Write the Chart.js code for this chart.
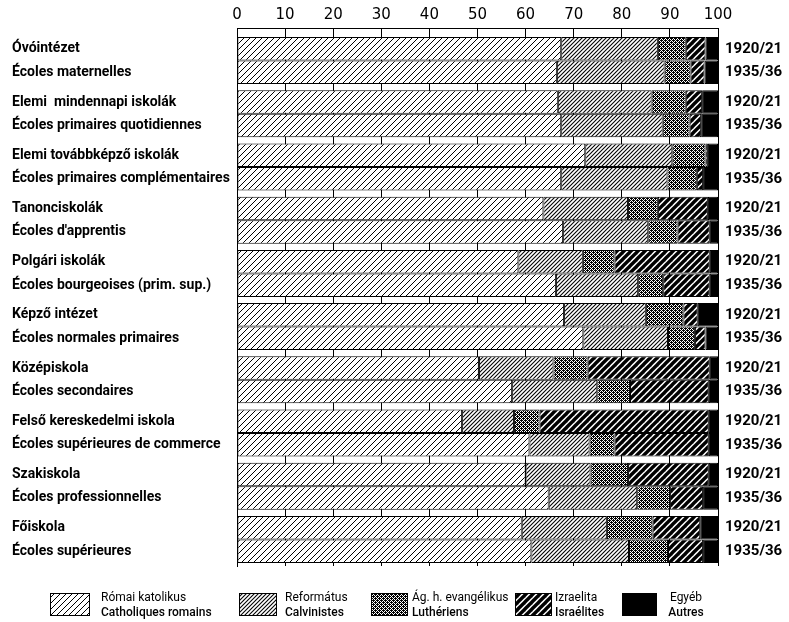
<!DOCTYPE html>
<html>
<head>
<meta charset="utf-8">
<script src="https://cdn.jsdelivr.net/npm/chart.js@4.4.1/dist/chart.umd.min.js"></script>
<style>
  html, body { margin: 0; padding: 0; background: #fff; }
  #wrap { width: 789px; height: 622px; position: relative; }
</style>
</head>
<body>
<div id="wrap"><canvas id="schoolChart"></canvas></div>
<script>
// School types (Hungarian / French)
const schoolsHu = [
    'Óvóintézet',
    'Elemi  mindennapi iskolák',
    'Elemi továbbképző iskolák',
    'Tanonciskolák',
    'Polgári iskolák',
    'Képző intézet',
    'Középiskola',
    'Felső kereskedelmi iskola',
    'Szakiskola',
    'Főiskola'
];
const schoolsFr = [
    'Écoles maternelles',
    'Écoles primaires quotidiennes',
    'Écoles primaires complémentaires',
    "Écoles d'apprentis",
    'Écoles bourgeoises (prim. sup.)',
    'Écoles normales primaires',
    'Écoles secondaires',
    'Écoles supérieures de commerce',
    'Écoles professionnelles',
    'Écoles supérieures'
];
const years = ['1920/21', '1935/36'];
const religionsHu = ['Római katolikus', 'Református', 'Ág. h. evangélikus', 'Izraelita', 'Egyéb'];
const religionsFr = ['Catholiques romains', 'Calvinistes', 'Luthériens', 'Israélites', 'Autres'];
const xTicks = [0, 10, 20, 30, 40, 50, 60, 70, 80, 90, 100];

// Share of pupils in %, one value per school type
const catholic1920 = [67.4, 66.7, 72.4, 63.7, 58.5, 68.0, 50.3, 46.8, 60.0, 59.2];
const catholic1935 = [66.5, 67.4, 67.4, 67.8, 66.3, 72.0, 57.2, 60.8, 64.8, 61.2];
const calvinist1920 = [20.1, 19.5, 18.1, 17.6, 13.4, 17.0, 15.5, 10.8, 13.5, 17.7];
const calvinist1935 = [22.4, 21.1, 22.1, 17.7, 17.1, 17.6, 17.7, 12.5, 18.4, 20.3];
const lutheran1920 = [5.8, 7.1, 6.9, 6.2, 6.6, 7.8, 7.1, 5.3, 7.8, 9.5];
const lutheran1935 = [5.4, 5.6, 6.1, 6.1, 5.2, 5.6, 6.8, 5.2, 6.8, 8.1];
const jewish1920 = [4.1, 3.4, 0.5, 10.4, 19.8, 3.0, 25.4, 35.2, 16.8, 9.9];
const jewish1935 = [2.9, 2.4, 1.3, 6.7, 9.7, 2.2, 16.4, 19.6, 6.9, 7.3];
const other1920 = [2.6, 3.3, 2.1, 2.1, 1.7, 4.2, 1.7, 1.9, 1.9, 3.7];
const other1935 = [2.8, 3.5, 3.1, 1.7, 1.7, 2.6, 1.9, 1.9, 3.1, 3.1];

const shares = [
    [catholic1920, catholic1935],
    [calvinist1920, calvinist1935],
    [lutheran1920, lutheran1935],
    [jewish1920, jewish1935],
    [other1920, other1935]
];

const LABEL_FONT = 'Roboto, "Liberation Sans", sans-serif';
const AXIS_FONT = '"DejaVu Sans", sans-serif';

// 45 degree hatch tile, lines going up to the right
function makeHatch(w, lineWidth) {
    const c = document.createElement('canvas');
    c.width = w;
    c.height = w;
    const g = c.getContext('2d');
    g.fillStyle = '#fff';
    g.fillRect(0, 0, w, w);
    g.strokeStyle = '#000';
    g.lineWidth = lineWidth;
    // lines x + y = 0, w, 2w so the tile joins without gaps
    [-1, 0, 1].forEach(k => {
        g.beginPath();
        g.moveTo(-w + k * w, 2 * w);
        g.lineTo(2 * w + k * w, -w);
        g.stroke();
    });
    return g.createPattern(c, 'repeat');
}

// dark dotted screen for the Lutheran share
function makeStipple() {
    const c = document.createElement('canvas');
    c.width = 4;
    c.height = 4;
    const g = c.getContext('2d');
    g.fillStyle = '#fff';
    g.fillRect(0, 0, 4, 4);
    g.fillStyle = '#000';
    for (let x = 0; x < 4; x++) {
        for (let y = 0; y < 4; y++) {
            if ((x + y) % 2 === 0 || (x === 1 && y === 0) || (x === 3 && y === 2)) {
                g.fillRect(x, y, 1, 1);
            }
        }
    }
    return g.createPattern(c, 'repeat');
}

const fills = [
    makeHatch(6, 1),      // Római katolikus
    makeHatch(4, 1.1),    // Református
    makeStipple(),        // Ág. h. evangélikus
    makeHatch(7, 3.4),    // Izraelita
    '#000'                // Egyéb
];

const datasets = [];
religionsHu.forEach((rel, i) => {
    years.forEach((yr, j) => {
        datasets.push({
            label: rel + ' ' + yr,
            data: shares[i][j],
            backgroundColor: fills[i],
            borderColor: '#000',
            borderWidth: 1,
            borderSkipped: false,
            stack: yr,
            barPercentage: 1.0,
            categoryPercentage: 0.883
        });
    });
});

// ruler line above the first bars and the left frame
const framePlugin = {
    id: 'frame',
    afterDatasetsDraw(chart) {
        const { ctx, chartArea: a } = chart;
        ctx.save();
        ctx.strokeStyle = '#000';
        ctx.lineWidth = 1;
        ctx.beginPath();
        ctx.moveTo(a.left, a.top - 5.5);
        ctx.lineTo(a.right + 1, a.top - 5.5);
        ctx.moveTo(a.left + 0.5, a.top - 5.5);
        ctx.lineTo(a.left + 0.5, a.bottom + 1);
        ctx.stroke();
        ctx.restore();
    }
};

// legend at the bottom with two-line labels
const legendPlugin = {
    id: 'bottomLegend',
    afterDraw(chart) {
        const { ctx } = chart;
        const boxX = [50, 239, 371, 515, 622];
        const boxW = [40, 38, 37, 37, 35];
        const textX = [101, 285, 412, 555, 686];
        const top = 593, boxH = 23;
        ctx.save();
        religionsHu.forEach((rel, i) => {
            ctx.fillStyle = chart.data.datasets[i * 2].backgroundColor;
            ctx.fillRect(boxX[i], top, boxW[i], boxH);
            ctx.strokeStyle = '#000';
            ctx.lineWidth = 1;
            ctx.strokeRect(boxX[i] + 0.5, top + 0.5, boxW[i] - 1, boxH - 1);
            ctx.fillStyle = '#000';
            ctx.textAlign = i === 4 ? 'center' : 'left';
            ctx.textBaseline = 'middle';
            ctx.font = '12px ' + LABEL_FONT;
            ctx.fillText(rel, textX[i], 598);
            ctx.font = '500 12px ' + LABEL_FONT;
            ctx.fillText(religionsFr[i], textX[i], 613);
        });
        ctx.restore();
    }
};

const ctx = document.getElementById('schoolChart').getContext('2d');
new Chart(ctx, {
    type: 'bar',
    data: {
        labels: schoolsHu,
        datasets: datasets
    },
    options: {
        indexAxis: 'y',
        responsive: true,
        maintainAspectRatio: false,
        animation: false,
        layout: {
            padding: { left: 12, right: 0, top: 0, bottom: 56 }
        },
        plugins: {
            legend: { display: false },
            tooltip: { enabled: false }
        },
        scales: {
            x: {
                position: 'top',
                stacked: true,
                min: 0,
                max: 100,
                afterBuildTicks: (scale) => {
                    scale.ticks = xTicks.map(v => ({ value: v }));
                },
                ticks: {
                    color: '#000',
                    padding: 5,
                    font: { family: AXIS_FONT, size: 15 }
                },
                grid: {
                    color: '#000',
                    lineWidth: 1,
                    tickLength: 5,
                    drawTicks: true
                },
                border: { display: false },
                afterFit: (scale) => { scale.height = 34; }
            },
            y: {
                stacked: true,
                ticks: {
                    color: '#000',
                    crossAlign: 'far',
                    padding: 0,
                    autoSkip: false,
                    font: { family: LABEL_FONT, size: 14, weight: 'bold', lineHeight: 1.68 },
                    callback: (value, index) => [schoolsHu[index], schoolsFr[index]]
                },
                grid: { display: false },
                border: { display: true, color: '#000', width: 1 },
                afterFit: (scale) => { scale.width = 225; }
            },
            y2: {
                type: 'category',
                labels: schoolsHu,
                position: 'right',
                offset: true,
                ticks: {
                    color: '#000',
                    padding: 7,
                    autoSkip: false,
                    font: { family: LABEL_FONT, size: 15, weight: 'bold', lineHeight: 1.57 },
                    callback: () => years
                },
                grid: { display: false, drawTicks: false },
                border: { display: false },
                afterFit: (scale) => { scale.width = 71; }
            }
        }
    },
    plugins: [framePlugin, legendPlugin]
});
</script>
</body>
</html>
